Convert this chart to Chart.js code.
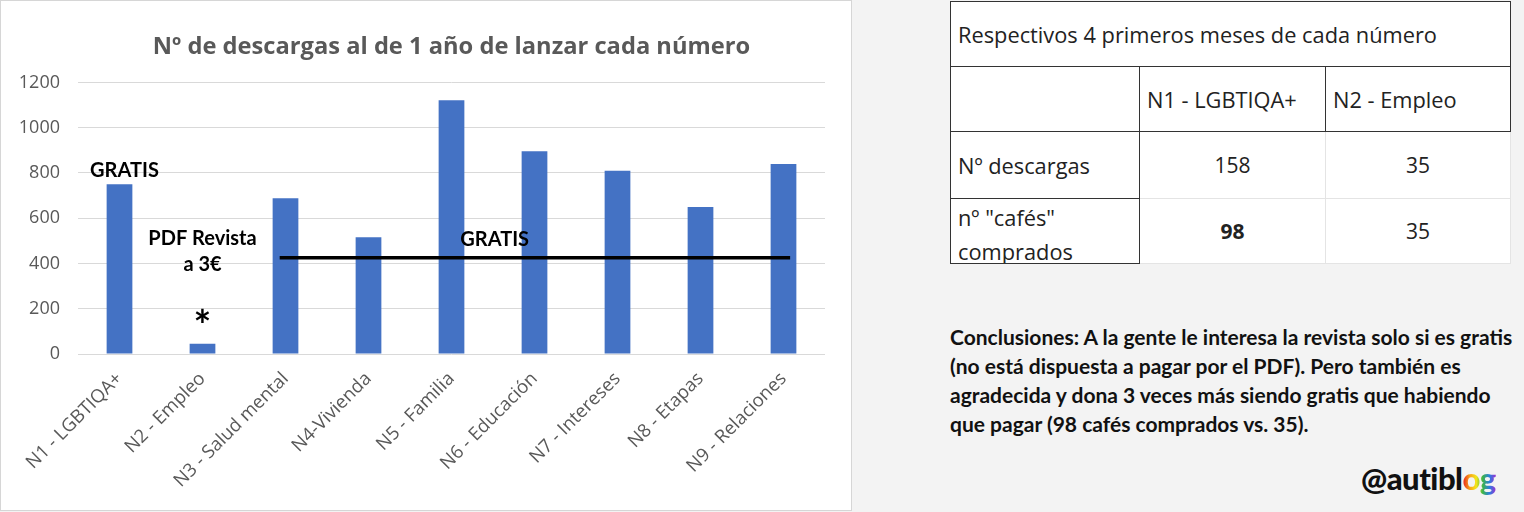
<!DOCTYPE html>
<html>
<head>
<meta charset="utf-8">
<title>Descargas por número</title>
<style>
  body { margin: 0; background: #f3f3f3; width: 1524px; height: 512px; overflow: hidden; position: relative; font-family: "Open Sans", sans-serif; }
  .chart-container { position: absolute; left: 0; top: 0; width: 850px; height: 509px; background: #fff; border: 1px solid #d6d6d6; }
  table.datos { position: absolute; left: 950px; top: 1px; border-collapse: collapse; table-layout: fixed; background: #fff; color: #222; font-size: 21.8px; }
  table.datos td { padding: 0 0 0 7px; vertical-align: middle; border: 1px solid #e4e4e4; overflow: hidden; white-space: nowrap; }
  table.datos td.dark { border-color: #333; }
  table.datos td.num { text-align: center; padding: 0; font-size: 21px; }
  table.datos td .dos { height: 64px; overflow: hidden; line-height: 34px; padding-top: 2px; box-sizing: border-box; }
  .conclusiones { position: absolute; left: 950px; top: 322px; width: 574px; font-family: Lato, sans-serif; font-weight: bold; font-size: 21px; line-height: 29px; color: #111; white-space: nowrap; }
  .logo { position: absolute; left: 1361px; top: 459px; font-family: Lato, sans-serif; font-weight: 900; font-size: 31px; color: #111; letter-spacing: -0.5px; }
  .logo span { background: linear-gradient(90deg, #e8231e, #f7a11a, #f5e61a, #3cb44b, #2a7fe0, #9b2fd0); -webkit-background-clip: text; background-clip: text; color: transparent; }
</style>
</head>
<body>
<div class="chart-container">
<canvas id="mycanvas"></canvas>
</div>

<table class="datos" id="datos"></table>

<div class="conclusiones">
Conclusiones: A la gente le interesa la revista solo si es gratis<br>
(no está dispuesta a pagar por el PDF). Pero también es<br>
agradecida y dona 3 veces más siendo gratis que habiendo<br>
que pagar (98 cafés comprados vs. 35).
</div>

<div class="logo">@autibl<span>og</span></div>

<script src="https://cdn.jsdelivr.net/npm/chart.js@4.4.1/dist/chart.umd.min.js"></script>
<script>
// chart data
var numeros = ["N1 - LGBTIQA+", "N2 - Empleo", "N3 - Salud mental", "N4-Vivienda", "N5 - Familia",
               "N6 - Educación", "N7 - Intereses", "N8 - Etapas", "N9 - Relaciones"];
var descargas = [750, 45, 688, 516, 1121, 896, 810, 650, 840];
var yTicks = [0, 200, 400, 600, 800, 1000, 1200];

// notes written on the chart
var notas = ["GRATIS", "PDF Revista", "a 3€", "*", "GRATIS"];

// table on the right
var tablaTitulo = "Respectivos 4 primeros meses de cada número";
var tablaColumnas = ["", "N1 - LGBTIQA+", "N2 - Empleo"];
var tablaFilas = ["Nº descargas", "nº \"cafés\"<br>comprados"];
var tablaN1 = [158, 98];
var tablaN2 = [35, 35];

// build the table
var t = document.getElementById("datos");
var colW = [189, 186, 185];
var html = "<colgroup>" + colW.map(function (w) { return '<col style="width:' + w + 'px">'; }).join("") + "</colgroup>";
html += '<tr style="height:65px"><td class="dark" colspan="3">' + tablaTitulo + "</td></tr>";
html += '<tr style="height:65px">' + tablaColumnas.map(function (c) { return '<td class="dark">' + c + "</td>"; }).join("") + "</tr>";
for (var i = 0; i < tablaFilas.length; i++) {
  var bold = (i === 1) ? ' style="font-weight:bold"' : "";
  var celda = (i === 1) ? '<div class="dos">' + tablaFilas[i] + "</div>" : tablaFilas[i];
  html += '<tr style="height:' + (i === 0 ? 67 : 65) + 'px"><td class="dark">' + celda + "</td>" +
          '<td class="num"' + bold + ">" + tablaN1[i] + "</td>" +
          '<td class="num">' + tablaN2[i] + "</td></tr>";
}
t.innerHTML = html;

// draws the text notes and the black "GRATIS" line using the scales
var notasPlugin = {
  id: "notas",
  afterDatasetsDraw: function (chart) {
    var ctx = chart.ctx, x = chart.scales.x, y = chart.scales.y;
    var px = function (i) { return x.getPixelForValue(0) + i * (x.getPixelForValue(1) - x.getPixelForValue(0)); };
    ctx.save();
    // line over N3..N9
    ctx.strokeStyle = "#000";
    ctx.lineWidth = 3.5;
    ctx.beginPath();
    ctx.moveTo(px(1.93), y.getPixelForValue(425));
    ctx.lineTo(px(8.08), y.getPixelForValue(425));
    ctx.stroke();

    ctx.fillStyle = "#000";
    ctx.textAlign = "center";
    ctx.textBaseline = "middle";
    ctx.font = "bold 20px Lato";
    ctx.fillText(notas[0], px(0.06), y.getPixelForValue(812));
    ctx.fillText(notas[1], px(1), y.getPixelForValue(508));
    ctx.fillText(notas[2], px(1), y.getPixelForValue(394));
    ctx.fillText(notas[4], px(4.52), y.getPixelForValue(504));
    ctx.font = "bold 42px Lato";
    ctx.fillText(notas[3], px(1), y.getPixelForValue(118));
    ctx.restore();
  }
};

var ctx = document.getElementById("mycanvas");
var grafico = new Chart(ctx, {
  type: "bar",
  data: {
    labels: numeros,
    datasets: [{
      label: "Descargas",
      data: descargas,
      backgroundColor: "#4472c4",
      barPercentage: 0.31,
      categoryPercentage: 1
    }]
  },
  options: {
    responsive: true,
    maintainAspectRatio: false,
    animation: false,
    layout: { padding: { left: 0, right: 26, top: 0, bottom: 0 } },
    plugins: {
      legend: { display: false },
      tooltip: { enabled: false },
      title: {
        display: true,
        fullSize: false,
        text: "Nº de descargas al de 1 año de lanzar cada número",
        color: "#595959",
        font: { family: "Open Sans", size: 23.7, weight: "bold" },
        padding: { top: 32, bottom: 21 }
      }
    },
    scales: {
      x: {
        grid: { display: false },
        border: { display: false },
        ticks: {
          color: "#595959",
          font: { family: "Open Sans", size: 18.5 },
          minRotation: 45,
          maxRotation: 45,
          padding: 6
        },
        afterFit: function (s) { s.height = 156; }
      },
      y: {
        min: 0,
        max: 1200,
        afterBuildTicks: function (s) { s.ticks = yTicks.map(function (v) { return { value: v }; }); },
        grid: { color: "#d9d9d9", drawTicks: false },
        border: { display: false },
        ticks: {
          color: "#595959",
          font: { family: "Open Sans", size: 18 },
          padding: 18,
          callback: function (v) { return String(v); }
        },
        afterFit: function (s) { s.width = 77; }
      }
    }
  },
  plugins: [notasPlugin]
});
</script>
</body>
</html>
